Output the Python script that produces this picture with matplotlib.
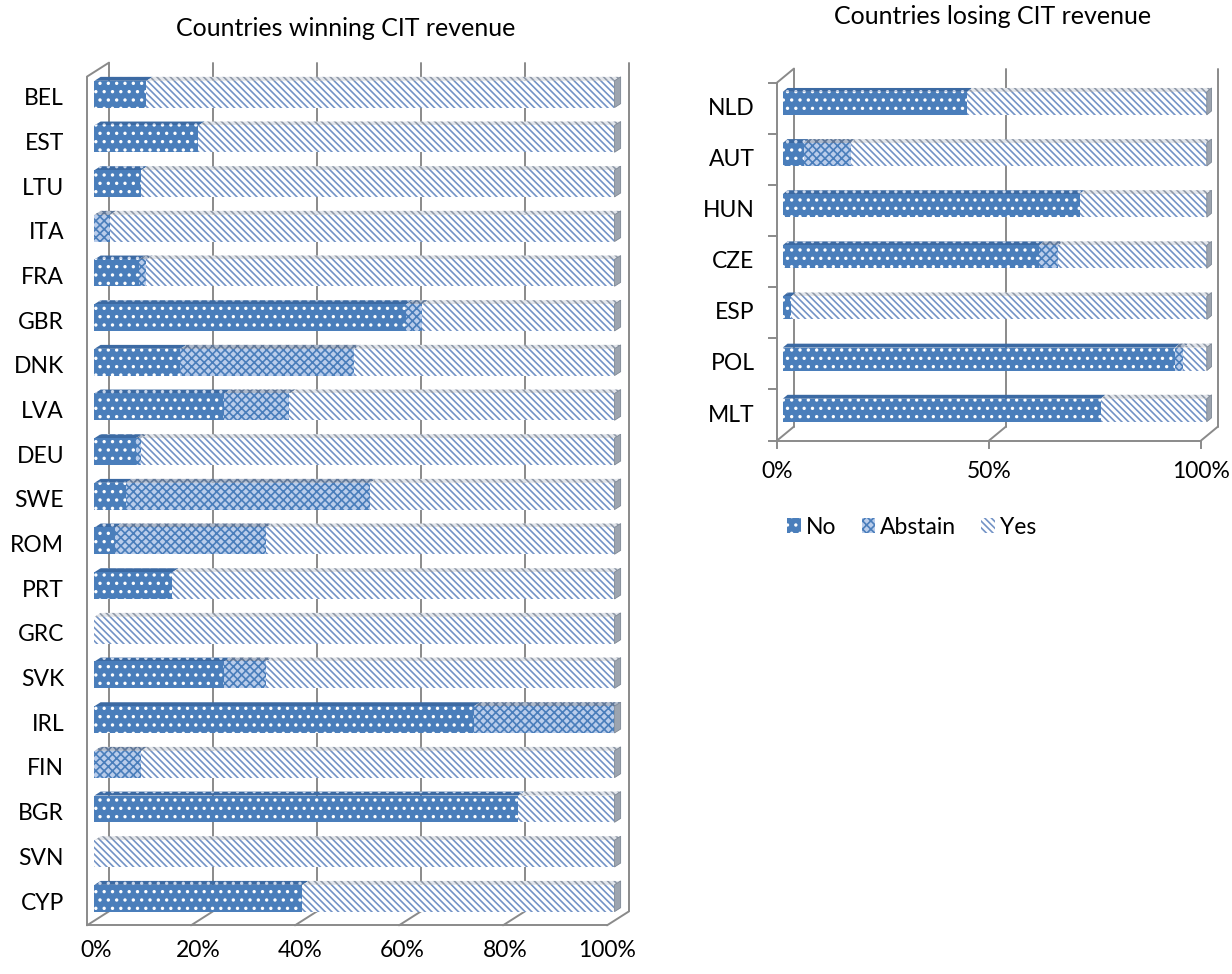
"""Stacked 3-D style bar charts: CIT vote split for winning and losing countries."""

import matplotlib

matplotlib.use("Agg")
import matplotlib.pyplot as plt
from matplotlib.patches import Patch, Polygon, Rectangle

plt.rcParams["font.family"] = ["Lato", "DejaVu Sans"]
plt.rcParams["hatch.linewidth"] = 1.2

W, H = 1232, 974

# --- data --------------------------------------------------------------
win_countries = ["BEL", "EST", "LTU", "ITA", "FRA", "GBR", "DNK", "LVA", "DEU", "SWE",
                 "ROM", "PRT", "GRC", "SVK", "IRL", "FIN", "BGR", "SVN", "CYP"]
win_no = [10, 20, 9, 0, 8.5, 60, 16.5, 25, 8, 6, 4, 15, 0, 25, 73, 0, 81.5, 0, 40]
win_abstain = [0, 0, 0, 3, 1.5, 3, 33.5, 12.5, 1, 47, 29, 0, 0, 8, 27, 9, 0, 0, 0]
win_yes = [90, 80, 91, 97, 90, 37, 50, 62.5, 91, 47, 67, 85, 100, 67, 0, 91, 18.5, 100, 60]

lose_countries = ["NLD", "AUT", "HUN", "CZE", "ESP", "POL", "MLT"]
lose_no = [43.5, 5, 70, 60.5, 2, 92.5, 75]
lose_abstain = [0, 11, 0, 4.5, 0, 2, 0]
lose_yes = [56.5, 84, 30, 35, 98, 5.5, 25]

win_ticks = [0, 20, 40, 60, 80, 100]
lose_ticks = [0, 50, 100]
tick_fmt = "{}%"

# --- styling -----------------------------------------------------------
BLUE = "#4A7EBB"
WALL = "#8A8A8A"
FS = 16.5
STYLES = {
    "No": dict(face=BLUE, hatch_col="#FFFFFF", hatch="..",
               top_face="#3C6AA3", top_hatch="#C9D6EA"),
    "Abstain": dict(face="#BACDEB", hatch_col=BLUE, hatch="xxxx",
                    top_face="#AEB9CA", top_hatch="#5F7799"),
    "Yes": dict(face="#FFFFFF", hatch_col="#7393C6", hatch="\\\\\\\\\\",
                top_face="#E3E6EB", top_hatch="#8E98A8"),
}
END_FACE = "#9CA4AF"
Z_FRONT, Z_BACK = 0.34, 0.62


def place_axes(fig, xlim, ylim, x0_px, sx, y0_px, sy):
    """Add an axes whose data units map onto a fixed pixel scale."""
    left = x0_px + xlim[0] * sx
    right = x0_px + xlim[1] * sx
    top = y0_px - ylim[1] * sy
    bottom = y0_px - ylim[0] * sy
    ax = fig.add_axes([left / W, 1 - bottom / H, (right - left) / W, (bottom - top) / H])
    ax.set_xlim(*xlim)
    ax.set_ylim(*ylim)
    ax.axis("off")
    return ax


def draw_frame(ax, gridlines, n, dx, dy):
    """Back wall gridlines, side wall and floor outline of the 3-D box."""
    kw = dict(color=WALL, lw=1.4, zorder=1, solid_capstyle="round")
    floor, top = -0.5, n - 0.5
    for g in gridlines:
        ax.plot([g + dx, g + dx], [floor + dy, top + dy], **kw)
        ax.plot([g, g + dx], [floor, floor + dy], **kw)
    ax.plot([0, 0], [floor, top], **kw)
    ax.plot([0, dx], [top, top + dy], **kw)
    ax.plot([0, gridlines[-1]], [floor, floor], **kw)


def draw_bar(ax, k, parts, h, dx, dy):
    """One stacked bar with front, top and right end faces."""
    yf = k + Z_FRONT * dy
    ylo, yhi = yf - h / 2, yf + h / 2
    ytop = yhi + (Z_BACK - Z_FRONT) * dy
    left = 0.0
    for name, value in parts:
        if value <= 0:
            continue
        st = STYLES[name]
        right = left + value
        xf0, xf1 = left + Z_FRONT * dx, right + Z_FRONT * dx
        xb0, xb1 = left + Z_BACK * dx, right + Z_BACK * dx
        ax.add_patch(Polygon([(xf0, yhi), (xf1, yhi), (xb1, ytop), (xb0, ytop)],
                             facecolor=st["top_face"], edgecolor=st["top_hatch"],
                             hatch=st["hatch"], lw=0, zorder=3))
        ax.add_patch(Rectangle((xf0, ylo), xf1 - xf0, h, facecolor=st["face"],
                               edgecolor=st["hatch_col"], hatch=st["hatch"], lw=0, zorder=4))
        left = right
    xf1 = left + Z_FRONT * dx
    xb1 = left + Z_BACK * dx
    ax.add_patch(Polygon([(xf1, ylo), (xf1, yhi), (xb1, ytop), (xb1, ylo + (Z_BACK - Z_FRONT) * dy)],
                         facecolor=END_FACE, edgecolor="#7D8794", lw=0.6, zorder=4))


def draw_chart(ax, countries, no, abstain, yes, ticks, h, dx, dy, label_x, tick_y, tick_shift):
    n = len(countries)
    draw_frame(ax, ticks, n, dx, dy)
    for i, name in enumerate(countries):
        k = n - 1 - i
        draw_bar(ax, k, [("No", no[i]), ("Abstain", abstain[i]), ("Yes", yes[i])], h, dx, dy)
        ax.text(label_x, k, name, ha="right", va="center", fontsize=FS, clip_on=False)
    for g in ticks:
        ax.text(g + tick_shift(g), tick_y, tick_fmt.format(g), ha="center", va="center",
                fontsize=FS, clip_on=False)


fig = plt.figure(figsize=(W / 100, H / 100), dpi=100)

# left: countries winning CIT revenue
ax_w = place_axes(fig, (-2.5, 108.5), (-0.75, 19.2), 87, 5.2, 903, 44.67)
draw_chart(ax_w, win_countries, win_no, win_abstain, win_yes, win_ticks,
           h=0.6, dx=4.23, dy=0.313, label_x=-4.4, tick_y=-1.07,
           tick_shift=lambda g: 1.7 * (1 - g / 100))

# right: countries losing CIT revenue
ax_l = place_axes(fig, (-3.5, 106.0), (-0.8, 7.0), 777, 4.24, 415, 51.14)
n_lose = len(lose_countries)
for b in range(n_lose + 1):
    ax_l.plot([-1.9, 0], [b - 0.5, b - 0.5], color=WALL, lw=1.4, zorder=1)
for g in lose_ticks:
    ax_l.plot([g, g], [-0.5, -0.64], color=WALL, lw=1.4, zorder=1)
draw_chart(ax_l, lose_countries, lose_no, lose_abstain, lose_yes, lose_ticks,
           h=0.45, dx=4.0, dy=0.274, label_x=-5.3, tick_y=-1.1,
           tick_shift=lambda g: 0)

fig.text(346 / W, 1 - 28 / H, "Countries winning CIT revenue", ha="center", va="center", fontsize=18)
fig.text(993 / W, 1 - 16 / H, "Countries losing CIT revenue", ha="center", va="center", fontsize=18)

handles = [Patch(facecolor=STYLES[s]["face"], edgecolor=STYLES[s]["hatch_col"],
                 hatch=STYLES[s]["hatch"], lw=0, label=s) for s in ("No", "Abstain", "Yes")]
fig.legend(handles=handles, loc="center left", bbox_to_anchor=(776 / W, 1 - 527 / H),
           ncol=3, frameon=False, fontsize=FS, handlelength=0.6, handleheight=0.6,
           handletextpad=0.2, columnspacing=1.1, borderpad=0)

fig.savefig("out.png", dpi=100)
